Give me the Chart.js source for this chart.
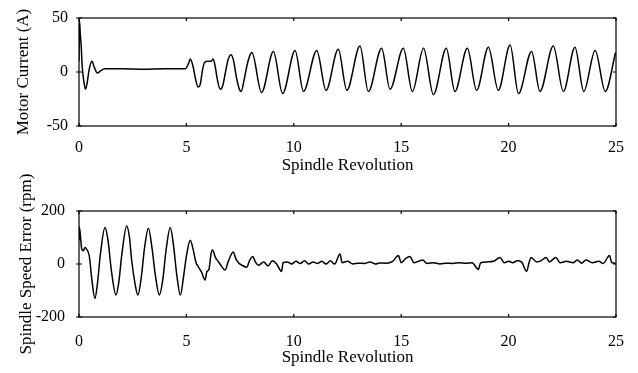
<!DOCTYPE html>
<html>
<head>
<meta charset="utf-8">
<script src="https://cdn.jsdelivr.net/npm/chart.js@4/dist/chart.umd.min.js"></script>
<style>
  body { margin: 0; background: #fff; }
  .box { position: absolute; left: 0; top: 0; width: 638px; }
</style>
</head>
<body>
<div class="box" style="height:186px"><canvas id="current"></canvas></div>
<div class="box" style="height:373px"><canvas id="speed"></canvas></div>
<script>
// values
const revTicks = [0, 5, 10, 15, 20, 25];
const currentTicks = [-50, 0, 50];
const speedTicks = [-200, 0, 200];

const currentRev = [
  0, 0.02, 0.06, 0.1, 0.15, 0.22, 0.3, 0.38, 0.47, 0.6, 0.72, 0.85, 1.0, 1.2, 2.0, 3.0, 4.0, 4.95,
  5.1, 5.18, 5.3, 5.42, 5.55, 5.65, 5.75, 5.85, 6.0, 6.15, 6.25, 6.35, 6.45, 6.58, 6.7, 6.82,
  6.95, 7.08, 7.2, 7.32, 7.45, 7.55, 7.68, 7.82, 7.95, 8.05, 8.5, 9.05, 9.48, 10.06, 10.45,
  11.07, 11.5, 12.07, 12.47, 13.08, 13.47, 14.09, 14.48, 15.1, 15.52, 16.04, 16.5, 17.1, 17.5,
  18.08, 18.51, 19.06, 19.52, 20.07, 20.46, 21.07, 21.46, 22.08, 22.55, 23.09, 23.5, 24.03,
  24.5, 24.98
];
const currentAmp = [
  10, 48, 35, 25, 5, -8, -16, -10, 2, 10, 4, -1, 1, 3, 3, 2.5, 3, 3,
  8, 12, 6, -6, -14, -11, 2, 9, 10, 10, 12, 4, -8, -16, -12, 0,
  12, 16, 10, -4, -15, -18, -8, 6, 15, 18, -19, 19, -20, 20, -18,
  20, -17, 21, -17, 24, -18, 22, -16, 22, -18, 22, -21, 22, -18,
  22, -17, 23, -17, 25, -20, 19, -18, 24, -18, 23, -18, 20,
  -18, 18
];

const speedRev = [
  0, 0.01, 0.05, 0.12, 0.2, 0.28, 0.36, 0.48, 0.6, 0.74, 0.85, 1.0, 1.21, 1.35, 1.5, 1.72,
  1.85, 2.0, 2.22, 2.35, 2.45, 2.6, 2.74, 2.9, 3.05, 3.23, 3.4, 3.55, 3.74, 3.9, 4.05, 4.25,
  4.4, 4.55, 4.72, 4.88, 5.0, 5.18, 5.3, 5.45, 5.55, 5.7, 5.87, 5.95, 6.05, 6.15, 6.22, 6.35,
  6.48, 6.65, 6.8, 6.95, 7.18, 7.3, 7.42, 7.6, 7.81, 7.95, 8.09, 8.2, 8.35, 8.6, 8.8, 9.0,
  9.2, 9.43, 9.5, 9.7, 9.9, 10.1, 10.3, 10.5, 10.7, 10.9, 11.1, 11.3, 11.5, 11.7, 11.9,
  12.15, 12.25, 12.5, 12.75, 13.0, 13.3, 13.55, 13.8, 14.0, 14.3, 14.6, 14.87, 15.0, 15.2,
  15.4, 15.6, 15.8, 16.0, 16.2, 16.5, 16.8, 17.1, 17.4, 17.7, 18.0, 18.3, 18.59, 18.7,
  19.0, 19.3, 19.6, 19.8, 20.0, 20.2, 20.4, 20.6, 20.84, 20.95, 21.05, 21.3, 21.5, 21.75,
  21.9, 22.2, 22.4, 22.7, 23.0, 23.2, 23.4, 23.6, 23.9, 24.2, 24.4, 24.7, 24.8, 24.98
];
const speedErr = [
  90, 140, 120, 60, 50, 62, 55, 30, -60, -130, -80, 40, 138, 90, -20, -117,
  -70, 40, 143, 100, 15, -70, -117, -50, 60, 135, 60, -40, -117, -60, 50, 138,
  70, -40, -117, -40, 30, 90, 60, 5, -10, -30, -60, -30, -20, 40, 53, 25,
  10, -10, -23, 10, 45, 20, 5, -5, -12, 15, 28, 10, -5, 8, -8, 12,
  0, -28, 5, 8, 0, 10, 2, 12, 0, 8, 2, 10, 0, 12, 0,
  38, 5, 10, 0, 3, 2, 8, 0, 4, 3, 10, 32, 5, 20,
  28, 5, 10, 15, 2, 5, 0, 3, 2, 5, 3, 5, -20, 5,
  8, 10, 25, 5, 10, 5, 12, 8, -28, 5, 25, 8, 12, 25,
  8, 25, 5, 10, 5, 15, 3, 15, 5, 10, 2, 32, 5, 3
];

const serif = 'Liberation Serif, Times New Roman, serif';

// full box with short inward ticks, like the original plot
const framePlugin = {
  id: 'frame',
  afterDatasetsDraw(chart) {
    const { ctx, chartArea: a, scales } = chart;
    ctx.save();
    ctx.strokeStyle = '#000';
    ctx.lineWidth = 1.2;
    ctx.strokeRect(a.left, a.top, a.right - a.left, a.bottom - a.top);
    ctx.beginPath();
    scales.x.ticks.forEach(t => {
      const px = scales.x.getPixelForValue(t.value);
      ctx.moveTo(px, a.top); ctx.lineTo(px, a.top + 3);
      ctx.moveTo(px, a.bottom); ctx.lineTo(px, a.bottom - 3);
    });
    scales.y.ticks.forEach(t => {
      const py = scales.y.getPixelForValue(t.value);
      ctx.moveTo(a.left - 3, py); ctx.lineTo(a.left + 3, py);
      ctx.moveTo(a.right, py); ctx.lineTo(a.right - 3, py);
    });
    ctx.stroke();
    ctx.restore();
  }
};

function makeChart(id, xs, ys, yTicks, yLabel, lay) {
  const points = xs.map((x, i) => ({ x: x, y: ys[i] }));
  return new Chart(document.getElementById(id), {
    type: 'line',
    data: {
      datasets: [{
        data: points,
        borderColor: '#000',
        borderWidth: 1.5,
        pointRadius: 0,
        cubicInterpolationMode: 'monotone',
        fill: false
      }]
    },
    options: {
      responsive: true,
      maintainAspectRatio: false,
      animation: false,
      layout: { padding: { top: lay.top, right: 22, left: 0, bottom: 0 } },
      plugins: { legend: { display: false }, tooltip: { enabled: false } },
      scales: {
        x: {
          type: 'linear',
          min: 0,
          max: 25,
          afterBuildTicks: s => { s.ticks = revTicks.map(v => ({ value: v })); },
          afterFit: s => { s.height = lay.xHeight; },
          grid: { display: false },
          border: { display: false },
          ticks: { color: '#000', padding: lay.xPad, font: { family: serif, size: 16 } },
          title: {
            display: true,
            text: 'Spindle Revolution',
            color: '#000',
            font: { family: serif, size: 17 },
            padding: { top: 0, bottom: lay.xTitlePad }
          }
        },
        y: {
          min: yTicks[0],
          max: yTicks[yTicks.length - 1],
          afterBuildTicks: s => { s.ticks = yTicks.map(v => ({ value: v })); },
          afterFit: s => { s.width = 79; },
          grid: { display: false },
          border: { display: false },
          ticks: { color: '#000', padding: lay.yPad, font: { family: serif, size: 16 } },
          title: {
            display: true,
            text: yLabel,
            color: '#000',
            font: { family: serif, size: 17 },
            padding: { top: lay.yTitlePad, bottom: 0 }
          }
        }
      }
    },
    plugins: [framePlugin]
  });
}

makeChart('current', currentRev, currentAmp, currentTicks, 'Motor Current (A)',
  { top: 18, xHeight: 60, xPad: 4, xTitlePad: 10, yPad: 3, yTitlePad: 13 });
// second canvas covers the whole page so its long y title is not cut off
makeChart('speed', speedRev, speedErr, speedTicks, 'Spindle Speed Error (rpm)',
  { top: 211, xHeight: 56, xPad: 7, xTitlePad: 5, yPad: 6, yTitlePad: 16 });
</script>
</body>
</html>
